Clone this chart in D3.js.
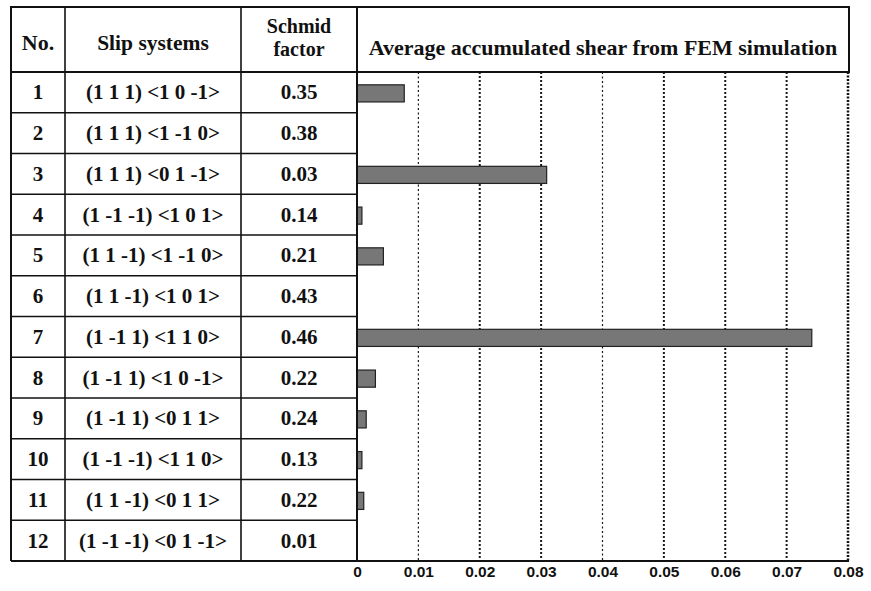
<!DOCTYPE html>
<html>
<head>
<meta charset="utf-8">
<script src="https://cdn.jsdelivr.net/npm/d3@7"></script>
<style>
  body { margin: 0; background: #fff; }
  svg text { fill: #111; }
</style>
</head>
<body>
<div id="chart"></div>
<script>
var nums = ["1", "2", "3", "4", "5", "6", "7", "8", "9", "10", "11", "12"];
var slipSystems = [
  "(1 1 1) <1 0 -1>", "(1 1 1) <1 -1 0>", "(1 1 1) <0 1 -1>",
  "(1 -1 -1) <1 0 1>", "(1 1 -1) <1 -1 0>", "(1 1 -1) <1 0 1>",
  "(1 -1 1) <1 1 0>", "(1 -1 1) <1 0 -1>", "(1 -1 1) <0 1 1>",
  "(1 -1 -1) <1 1 0>", "(1 1 -1) <0 1 1>", "(1 -1 -1) <0 1 -1>"
];
var schmid = ["0.35", "0.38", "0.03", "0.14", "0.21", "0.43", "0.46", "0.22", "0.24", "0.13", "0.22", "0.01"];
var shear = [0.0077, 0, 0.0309, 0.0008, 0.0043, 0, 0.0741, 0.0030, 0.0015, 0.0008, 0.0011, 0];
var tickVals = [0, 0.01, 0.02, 0.03, 0.04, 0.05, 0.06, 0.07, 0.08];
var headers = ["No.", "Slip systems", "Schmid", "factor", "Average accumulated shear from FEM simulation"];

var w = 871, h = 591;
var tLeft = 11, tTop = 7, headBottom = 72, tBottom = 561;
var col1 = 65, col2 = 241, plotLeft = 357, plotRight = 848, tRight = 849;

var svg = d3.select("#chart").append("svg")
  .attr("width", w)
  .attr("height", h);

var data = nums.map(function(n, i) {
  return {no: n, slip: slipSystems[i], sf: schmid[i], shear: shear[i]};
});

var yscale = d3.scaleBand()
  .domain(nums)
  .range([headBottom, tBottom])
  .padding(0);

var xscale = d3.scaleLinear()
  .domain([0, 0.08])
  .range([plotLeft, plotRight]);

// gridlines
svg.selectAll(".grid")
  .data(tickVals.slice(1, -1))
  .enter().append("line")
  .attr("x1", function(d) { return xscale(d); })
  .attr("x2", function(d) { return xscale(d); })
  .attr("y1", headBottom)
  .attr("y2", tBottom)
  .style("stroke", "#1a1a1a")
  .style("stroke-width", function(d, i) { return (i == 0 || i == 3) ? 1.2 : 2; })
  .style("stroke-dasharray", function(d, i) { return (i == 0 || i == 3) ? "2,2.5" : "2,2"; });

// bars
var barH = yscale.bandwidth() * 0.42;
svg.selectAll(".bar")
  .data(data.filter(function(d) { return d.shear > 0; }))
  .enter().append("rect")
  .attr("x", xscale(0))
  .attr("y", function(d) { return yscale(d.no) + (yscale.bandwidth() - barH) / 2 + 1; })
  .attr("width", function(d) { return xscale(d.shear) - xscale(0); })
  .attr("height", barH)
  .style("fill", "#777")
  .style("stroke", "#222")
  .style("stroke-width", 1.2);

// table row lines
svg.selectAll(".rowline")
  .data(nums.slice(1))
  .enter().append("line")
  .attr("x1", tLeft)
  .attr("x2", plotLeft)
  .attr("y1", function(d) { return yscale(d); })
  .attr("y2", function(d) { return yscale(d); })
  .style("stroke", "#111")
  .style("stroke-width", 1.6);

// column lines
[col1, col2].forEach(function(x) {
  svg.append("line")
    .attr("x1", x).attr("x2", x)
    .attr("y1", tTop).attr("y2", tBottom)
    .style("stroke", "#111").style("stroke-width", 1.6);
});
svg.append("line")
  .attr("x1", plotLeft).attr("x2", plotLeft)
  .attr("y1", tTop).attr("y2", tBottom)
  .style("stroke", "#111").style("stroke-width", 2);

// header box and outer borders
svg.append("rect")
  .attr("x", tLeft).attr("y", tTop)
  .attr("width", tRight - tLeft).attr("height", headBottom - tTop)
  .style("fill", "none").style("stroke", "#111").style("stroke-width", 2);
svg.append("line")
  .attr("x1", tLeft).attr("x2", tLeft)
  .attr("y1", tTop).attr("y2", tBottom)
  .style("stroke", "#111").style("stroke-width", 2);
svg.append("line")
  .attr("x1", plotRight).attr("x2", plotRight)
  .attr("y1", headBottom).attr("y2", tBottom)
  .style("stroke", "#111").style("stroke-width", 2.5)
  .style("stroke-dasharray", "2,1.5");

// x axis
var xaxis = d3.axisBottom()
  .scale(xscale)
  .tickValues(tickVals)
  .tickSize(0)
  .tickPadding(5)
  .tickFormat(function(d) { return d == 0 ? "0" : d3.format(".2f")(d); });

var gx = svg.append("g")
  .attr("transform", "translate(0," + tBottom + ")")
  .call(xaxis);
gx.select(".domain").remove();
gx.selectAll("text")
  .style("font-family", "'Liberation Sans', Arial, sans-serif")
  .style("font-weight", "bold")
  .style("font-size", "15.5px")
  .style("fill", "#111");

svg.append("line")
  .attr("x1", tLeft).attr("x2", plotRight + 1)
  .attr("y1", tBottom).attr("y2", tBottom)
  .style("stroke", "#111").style("stroke-width", 2.2);

// table text
var serif = "'Liberation Serif', 'Times New Roman', serif";
function cellText(x, y, txt, size) {
  svg.append("text")
    .attr("x", x).attr("y", y)
    .attr("text-anchor", "middle")
    .style("font-family", serif)
    .style("font-weight", "bold")
    .style("font-size", size + "px")
    .text(txt);
}

cellText((tLeft + col1) / 2, 50, headers[0], 22);
cellText((col1 + col2) / 2, 50, headers[1], 21.5);
cellText((col2 + plotLeft) / 2, 33, headers[2], 20);
cellText((col2 + plotLeft) / 2, 56, headers[3], 20);
cellText((plotLeft + tRight) / 2, 55, headers[4], 22);

svg.selectAll(".row")
  .data(data)
  .enter().append("g")
  .each(function(d) {
    var yc = yscale(d.no) + yscale.bandwidth() / 2 + 7;
    cellText((tLeft + col1) / 2, yc, d.no, 21);
    cellText((col1 + col2) / 2, yc, d.slip, 21);
    cellText((col2 + plotLeft) / 2, yc, d.sf, 21);
  });
</script>
</body>
</html>
